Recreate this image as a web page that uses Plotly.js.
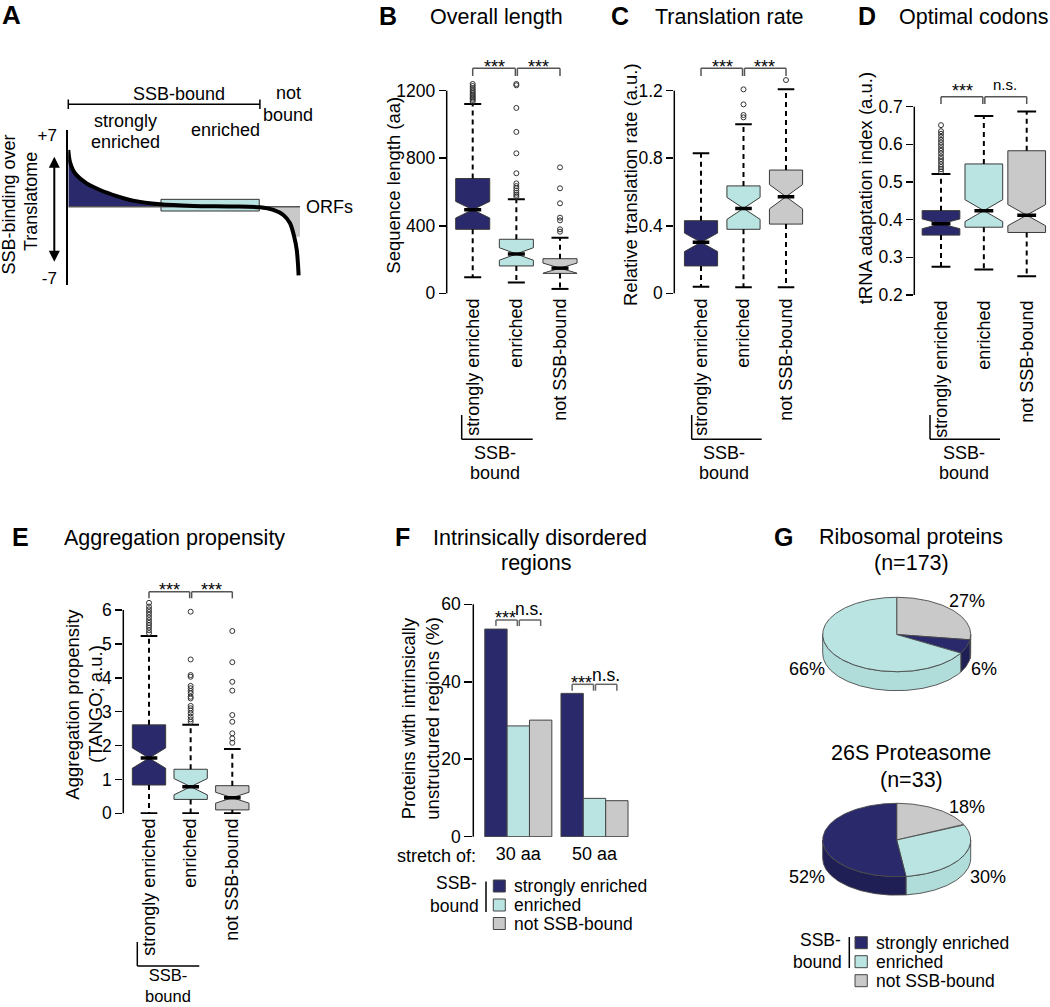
<!DOCTYPE html>
<html>
<head>
<meta charset="utf-8">
<script src="https://cdn.plot.ly/plotly-3.0.1.min.js"></script>
<style>html,body{margin:0;padding:0;background:#fff;}#fig{width:1050px;height:1007px;}</style>
</head>
<body>
<div id="fig"></div>
<script>
// ================= DATA =================
const groupLabels = ['strongly enriched', 'enriched', 'not SSB-bound'];

// A: schematic, SSB-binding over translatome for ranked ORFs (rank %, log2 ratio)
const curveRank  = [0, 0.7, 2.9, 7.9, 13.7, 20.9, 28, 39.6, 54, 70, 82.7, 88.5, 92.8, 95.7, 97.5, 98.6, 99.1, 99.4];
const curveValue = [5.54, 4.39, 3.26, 2.28, 1.63, 1.04, 0.59, 0.23, 0.07, 0.02, -0.06, -0.32, -0.81, -1.62, -2.93, -4.23, -5.5, -6.7];
const rankMax = 100;
const strongRankEnd = 54;
const boundRankEnd = 82.7;
const enrichedRankRange = [40, 82.4];
const enrichedBand = [-0.42, 0.72];
const notBoundShadeFloor = -2.93;
const axisATickVals = [7, -7];
const axisATickText = ['+7', '-7'];

// B: overall length (aa)
const lengthQ1 = [379, 162, 118];
const lengthMedian = [495, 233, 149];
const lengthQ3 = [680, 320, 205];
const lengthWhiskerLow = [95, 64, 26];
const lengthWhiskerHigh = [1121, 557, 329];
const lengthNotch = [49, 37, 30];
const lengthOutStrong = [1136, 1145, 1153, 1161, 1169, 1177, 1186, 1195, 1205, 1216, 1228, 1240];
const lengthOutEnriched = [572, 583, 595, 608, 622, 635, 651, 711, 829, 956, 1098, 1232, 1240];
const lengthOutNot = [365, 379, 432, 448, 533, 622, 746];
const lengthTicks = [0, 400, 800, 1200];

// C: relative translation rate (a.u.)
const rateQ1 = [0.162, 0.379, 0.410];
const rateMedian = [0.302, 0.503, 0.572];
const rateQ3 = [0.430, 0.636, 0.730];
const rateWhiskerLow = [0.039, 0.036, 0.036];
const rateWhiskerHigh = [0.829, 1.001, 1.208];
const rateNotch = [0.055, 0.065, 0.072];
const rateOutStrong = [];
const rateOutEnriched = [1.042, 1.056, 1.119, 1.208];
const rateOutNot = [1.263];
const rateTicks = [0, 0.4, 0.8, 1.2];

// D: tRNA adaptation index (a.u.)
const taiQ1 = [0.359, 0.380, 0.366];
const taiMedian = [0.389, 0.424, 0.412];
const taiQ3 = [0.424, 0.548, 0.583];
const taiWhiskerLow = [0.275, 0.268, 0.250];
const taiWhiskerHigh = [0.521, 0.675, 0.687];
const taiNotch = [0.013, 0.029, 0.028];
const taiOutStrong = [0.528, 0.534, 0.540, 0.547, 0.554, 0.561, 0.568, 0.576, 0.583, 0.590, 0.598, 0.605, 0.612, 0.620, 0.628, 0.635, 0.651];
const taiOutEnriched = [];
const taiOutNot = [];
const taiTicks = [0.2, 0.3, 0.4, 0.5, 0.6, 0.7];

// E: aggregation propensity (TANGO; a.u.)
const aggQ1 = [0.835, 0.41, 0.10];
const aggMedian = [1.63, 0.785, 0.46];
const aggQ3 = [2.61, 1.30, 0.815];
const aggWhiskerLow = [0, 0, 0];
const aggWhiskerHigh = [5.23, 2.61, 1.90];
const aggNotch = [0.30, 0.24, 0.16];
const aggOutStrong = [5.32, 5.40, 5.48, 5.55, 5.62, 5.70, 5.78, 5.86, 5.94, 6.02, 6.10, 6.21];
const aggOutEnriched = [2.70, 2.77, 2.85, 2.95, 3.03, 3.10, 3.17, 3.39, 3.44, 3.54, 3.61, 3.69, 3.76, 4.03, 4.08, 4.54, 5.95];
const aggOutNot = [2.08, 2.21, 2.36, 2.70, 2.90, 3.62, 3.88, 4.46, 5.38];
const aggTicks = [0, 1, 2, 3, 4, 5, 6];

// F: proteins with intrinsically unstructured regions (%)
const stretchLabels = ['30 aa', '50 aa'];
const idrStrong = [53.6, 37.0];
const idrEnriched = [28.6, 9.9];
const idrNotBound = [30.1, 9.3];
const idrTicks = [0, 20, 40, 60];

// G: complexes, share of subunits per class (%) [strongly enriched, enriched, not SSB-bound]
const riboPct = [6, 66, 27];
const proteasomePct = [52, 30, 18];
const riboOrder = [2, 0, 1];        // clockwise from 12 o'clock
const proteasomeOrder = [2, 1, 0];

// ================= STYLE / LAYOUT HELPERS =================
const W = 1050, H = 1007;
const FONT = 'Liberation Sans, Arial, Helvetica, sans-serif';
const NAVY = '#29296b', CYAN = '#bae4e2', GRAY = '#c9c9c9';
const fills = [NAVY, CYAN, GRAY];
const sideFills = ['#1f1f55', '#b0dcda', '#bdbdbd'];

function axisMap(v0, p0, v1, p1) {
  const k = (p1 - p0) / (v1 - v0);
  return { toPx: v => p0 + (v - v0) * k, toV: p => v0 + (p - p0) / k };
}
const P = {
  A: { x: axisMap(0, 68.3, 100, 300), xL: 68.3, xR: 310, y: axisMap(0, 206.7, 7, 135), yT: 130, yB: 285 },
  B: { x: axisMap(1, 472.7, 3, 560), xL: 446.7, xR: 592, y: axisMap(0, 293.3, 1200, 90.7), yT: 55, yB: 294 },
  C: { x: axisMap(1, 701, 3, 786), xL: 674.3, xR: 818, y: axisMap(0, 293.3, 1.2, 90.7), yT: 55, yB: 294 },
  D: { x: axisMap(1, 941, 3, 1026.7), xL: 914.3, xR: 1050, y: axisMap(0.2, 295, 0.7, 106.7), yT: 80, yB: 296 },
  E: { x: axisMap(1, 149, 3, 232.3), xL: 123.3, xR: 262, y: axisMap(0, 813.3, 6, 610), yT: 575, yB: 814 },
  F: { x: axisMap(0, 518.3, 1, 594.5), xL: 473.3, xR: 640, y: axisMap(0, 836.7, 60, 604.3), yT: 600, yB: 837 }
};

const traces = [], shapes = [], annotations = [];
const layout = {
  width: W, height: H, margin: { l: 0, r: 0, t: 0, b: 0 },
  paper_bgcolor: '#fff', plot_bgcolor: 'rgba(0,0,0,0)', showlegend: false,
  barmode: 'group', bargap: 0.12, bargroupgap: 0,
  font: { family: FONT, color: '#000' }
};

function seg(x0, y0, x1, y1, w, c) {
  shapes.push({ type: 'line', xref: 'paper', yref: 'paper', x0: x0 / W, y0: 1 - y0 / H, x1: x1 / W, y1: 1 - y1 / H,
    line: { color: c || '#000', width: w || 1.5 } });
}
function rect(x0, y0, x1, y1, fill) {
  shapes.push({ type: 'rect', xref: 'paper', yref: 'paper', x0: x0 / W, y0: 1 - y1 / H, x1: x1 / W, y1: 1 - y0 / H,
    fillcolor: fill, line: { color: '#444', width: 1 } });
}
function txt(text, x, y, o) {
  o = o || {};
  annotations.push({ xref: 'paper', yref: 'paper', x: x / W, y: 1 - y / H, text: text, showarrow: false,
    xanchor: o.xa || 'center', yanchor: o.ya || 'middle', textangle: o.angle || 0,
    font: { family: FONT, size: o.size || 18, color: '#000' } });
}
function bracketPair(xa, xb, yTop, yEnd, c) {
  seg(xa, yEnd, xa, yTop, 1.5, c || '#555');
  seg(xa, yTop, xb, yTop, 1.5, c || '#555');
  seg(xb, yTop, xb, yEnd, 1.5, c || '#555');
}

// ================= A =================
(function () {
  const p = P.A;
  layout.xaxis = { domain: [p.xL / W, p.xR / W], range: [p.x.toV(p.xL), p.x.toV(p.xR)], anchor: 'y', visible: false, fixedrange: true };
  layout.yaxis = { domain: [1 - p.yB / H, 1 - p.yT / H], range: [p.y.toV(p.yB), p.y.toV(p.yT)], anchor: 'x',
    showline: true, linewidth: 2, linecolor: '#000', ticks: '', tickvals: axisATickVals, ticktext: axisATickText,
    showgrid: false, zeroline: false, tickfont: { family: FONT, size: 17, color: '#000' }, ticklabelstandoff: 6, automargin: false };
  const idxStrong = curveRank.map((r, i) => i).filter(i => curveRank[i] <= strongRankEnd);
  traces.push({ type: 'scatter', mode: 'lines', x: idxStrong.map(i => curveRank[i]), y: idxStrong.map(i => curveValue[i]),
    fill: 'tozeroy', fillcolor: NAVY, line: { width: 0, shape: 'spline', smoothing: 0.8 }, hoverinfo: 'skip' });
  const idxNot = curveRank.map((r, i) => i).filter(i => curveRank[i] >= boundRankEnd && curveValue[i] >= notBoundShadeFloor);
  traces.push({ type: 'scatter', mode: 'lines', x: idxNot.map(i => curveRank[i]).concat([rankMax]),
    y: idxNot.map(i => curveValue[i]).concat([notBoundShadeFloor]),
    fill: 'tozeroy', fillcolor: GRAY, line: { width: 0 }, hoverinfo: 'skip' });
  traces.push({ type: 'scatter', mode: 'lines',
    x: [enrichedRankRange[0], enrichedRankRange[1], enrichedRankRange[1], enrichedRankRange[0], enrichedRankRange[0]],
    y: [enrichedBand[0], enrichedBand[0], enrichedBand[1], enrichedBand[1], enrichedBand[0]],
    fill: 'toself', fillcolor: CYAN, line: { color: '#333', width: 1 }, hoverinfo: 'skip' });
  traces.push({ type: 'scatter', mode: 'lines', x: [0, rankMax], y: [0, 0], line: { color: '#555', width: 1.5 }, hoverinfo: 'skip' });
  traces.push({ type: 'scatter', mode: 'lines', x: curveRank, y: curveValue,
    line: { color: '#000', width: 4, shape: 'spline', smoothing: 0.8 }, hoverinfo: 'skip' });

  const x0 = p.x.toPx(0), x1 = p.x.toPx(boundRankEnd);
  seg(x0, 104.3, x1, 104.3, 1.5); seg(x0, 99.5, x0, 109, 1.5); seg(x1, 99.5, x1, 109, 1.5);
  txt('<b>A</b>', 11, 15, { size: 26 });
  txt('SSB-bound', 179, 94, {});
  txt('not', 288, 93.3, {}); txt('bound', 288, 115, {});
  txt('strongly', 125, 120.7, {}); txt('enriched', 125, 141.7, {});
  txt('enriched', 225.7, 130, {});
  txt('ORFs', 303.5, 206.7, { xa: 'left' });
  txt('SSB-binding over', 8.5, 205, { angle: -90 });
  txt('Translatome', 31, 202, { angle: -90 });
  annotations.push({ xref: 'paper', yref: 'paper', x: 54.3 / W, y: 1 - 156.7 / H, ax: 0, ay: 106.6, axref: 'pixel', ayref: 'pixel',
    text: '', showarrow: true, arrowhead: 2, startarrowhead: 2, arrowside: 'end+start', arrowsize: 1.1, arrowwidth: 2,
    arrowcolor: '#000', standoff: 0, startstandoff: 0 });
})();

// ================= BOX PANELS =================
function boxPanel(key, n, s, outliers, width, ticks, tickText) {
  const p = P[key], xa = 'x' + n, ya = 'y' + n;
  layout['xaxis' + n] = { domain: [p.xL / W, p.xR / W], range: [p.x.toV(p.xL), p.x.toV(p.xR)], anchor: ya,
    tickvals: [1, 2, 3], ticktext: groupLabels, tickangle: -90, ticks: '', showline: false, zeroline: false, showgrid: false,
    tickfont: { family: FONT, size: 18, color: '#000' }, automargin: false, fixedrange: true };
  layout['yaxis' + n] = { domain: [1 - p.yB / H, 1 - p.yT / H], range: [p.y.toV(p.yB), p.y.toV(p.yT)], anchor: xa,
    tickvals: ticks, ticktext: tickText, ticks: 'outside', ticklen: 7, tickwidth: 1.5, tickcolor: '#000',
    showline: false, zeroline: false, showgrid: false, tickfont: { family: FONT, size: 17.5, color: '#000' }, automargin: false };
  seg(p.xL, p.y.toPx(ticks[0]), p.xL, p.y.toPx(ticks[ticks.length - 1]), 1.5);
  [0, 1, 2].forEach(i => traces.push({ type: 'box', xaxis: xa, yaxis: ya, x: [i + 1],
    q1: [s.q1[i]], median: [s.med[i]], q3: [s.q3[i]], lowerfence: [s.q1[i]], upperfence: [s.q3[i]],
    notched: true, notchspan: [s.notch[i]], notchwidth: 0.5, width: width, whiskerwidth: 0, boxpoints: false,
    fillcolor: fills[i], line: { color: '#3a3a3a', width: 1 }, hoverinfo: 'skip' }));
  const wx = [], wy = [], cx = [], cy = [], mx = [], my = [], ox = [], oy = [];
  [0, 1, 2].forEach(i => {
    const x = i + 1, c = width * 0.25;
    wx.push(x, x, null, x, x, null); wy.push(s.q3[i], s.hi[i], null, s.q1[i], s.lo[i], null);
    cx.push(x - c, x + c, null, x - c, x + c, null); cy.push(s.hi[i], s.hi[i], null, s.lo[i], s.lo[i], null);
    mx.push(x - c, x + c, null); my.push(s.med[i], s.med[i], null);
    outliers[i].forEach(v => { ox.push(x); oy.push(v); });
  });
  traces.push({ type: 'scatter', mode: 'lines', xaxis: xa, yaxis: ya, x: wx, y: wy, line: { color: '#000', width: 2, dash: '5px,4px' }, hoverinfo: 'skip' });
  traces.push({ type: 'scatter', mode: 'lines', xaxis: xa, yaxis: ya, x: cx, y: cy, line: { color: '#000', width: 2 }, hoverinfo: 'skip' });
  traces.push({ type: 'scatter', mode: 'lines', xaxis: xa, yaxis: ya, x: mx, y: my, line: { color: '#000', width: 3.5 }, hoverinfo: 'skip' });
  traces.push({ type: 'scatter', mode: 'markers', xaxis: xa, yaxis: ya, x: ox, y: oy, cliponaxis: false,
    marker: { symbol: 'circle-open', size: 5, color: '#333', line: { width: 1, color: '#333' } }, hoverinfo: 'skip' });
}
function sigBrackets(key, yTop, yEnd, labels, ys, sizes) {
  const p = P[key];
  const xs = [1, 2, 3].map(v => p.x.toPx(v));
  bracketPair(xs[0], xs[1] - 1, yTop, yEnd);
  bracketPair(xs[1] + 1, xs[2], yTop, yEnd);
  txt(labels[0], (xs[0] + xs[1]) / 2, ys[0], { size: sizes[0] });
  txt(labels[1], (xs[1] + xs[2]) / 2, ys[1], { size: sizes[1] });
}
function ssbBracket(xv, x1, yTop, yLine, xc, y1, y2) {
  seg(xv, yTop, xv, yLine, 1.5); seg(xv, yLine, x1, yLine, 1.5);
  txt('SSB-', xc, y1, {}); txt('bound', xc, y2, {});
}

boxPanel('B', 2, { q1: lengthQ1, med: lengthMedian, q3: lengthQ3, lo: lengthWhiskerLow, hi: lengthWhiskerHigh, notch: lengthNotch },
  [lengthOutStrong, lengthOutEnriched, lengthOutNot], 0.78, lengthTicks, lengthTicks.map(String));
sigBrackets('B', 68.3, 76, ['***', '***'], [67, 67], [18, 18]);
txt('<b>B</b>', 388, 16, { size: 25 });
txt('Overall length', 428.3, 17, { xa: 'left', size: 21.5 });
txt('Sequence length (aa)', 392.7, 185, { angle: -90, size: 18.5 });
ssbBracket(461.7, 532.7, 415, 439.3, 495, 453, 473);

boxPanel('C', 3, { q1: rateQ1, med: rateMedian, q3: rateQ3, lo: rateWhiskerLow, hi: rateWhiskerHigh, notch: rateNotch },
  [rateOutStrong, rateOutEnriched, rateOutNot], 0.78, rateTicks, rateTicks.map(String));
sigBrackets('C', 68.3, 76, ['***', '***'], [67, 67], [18, 18]);
txt('<b>C</b>', 620, 16, { size: 25 });
txt('Translation rate', 653.3, 17, { xa: 'left', size: 21.5 });
txt('Relative translation rate (a.u.)', 630, 185, { angle: -90, size: 18.5 });
ssbBracket(691.7, 761.7, 415, 439.3, 724, 453, 473);

boxPanel('D', 4, { q1: taiQ1, med: taiMedian, q3: taiQ3, lo: taiWhiskerLow, hi: taiWhiskerHigh, notch: taiNotch },
  [taiOutStrong, taiOutEnriched, taiOutNot], 0.88, taiTicks, taiTicks.map(v => v.toFixed(1)));
sigBrackets('D', 96.7, 104, ['***', 'n.s.'], [90.5, 84.5], [18, 15]);
txt('<b>D</b>', 866.5, 16, { size: 25 });
txt('Optimal codons', 896.7, 17, { xa: 'left', size: 21.5 });
txt('tRNA adaptation index (a.u.)', 865, 188.3, { angle: -90, size: 18.5 });
ssbBracket(930, 1000, 415, 439.3, 964, 453, 473);

boxPanel('E', 5, { q1: aggQ1, med: aggMedian, q3: aggQ3, lo: aggWhiskerLow, hi: aggWhiskerHigh, notch: aggNotch },
  [aggOutStrong, aggOutEnriched, aggOutNot], 0.8, aggTicks, aggTicks.map(String));
sigBrackets('E', 591.7, 598.3, ['***', '***'], [589.5, 589.5], [18, 18]);
txt('<b>E</b>', 20, 537, { size: 25 });
txt('Aggregation propensity', 62, 538, { xa: 'left', size: 21.5 });
txt('Aggregation propensity', 71.7, 704, { angle: -90, size: 18.5 });
txt('(TANGO; a.u.)', 95, 704, { angle: -90, size: 18.5 });
seg(137.3, 942, 137.3, 966, 1.5); seg(137.3, 966, 199.3, 966, 1.5);
annotations.push({ xref: 'paper', yref: 'paper', x: 168.3 / W, y: 1 - 1006 / H, text: 'SSB-<br>bound', showarrow: false,
  xanchor: 'center', yanchor: 'bottom', align: 'center', borderpad: 0,
  font: { family: FONT, size: 16.5, color: '#000' } });

// ================= F =================
(function () {
  const p = P.F;
  layout.xaxis6 = { domain: [p.xL / W, p.xR / W], range: [p.x.toV(p.xL), p.x.toV(p.xR)], anchor: 'y6', type: 'category',
    ticks: '', showline: false, zeroline: false, showgrid: false, tickfont: { family: FONT, size: 18, color: '#000' },
    ticklabelstandoff: 4, automargin: false };
  layout.yaxis6 = { domain: [1 - p.yB / H, 1 - p.yT / H], range: [p.y.toV(p.yB), p.y.toV(p.yT)], anchor: 'x6',
    tickvals: idrTicks, ticktext: idrTicks.map(String), ticks: 'outside', ticklen: 8, tickwidth: 1.5, tickcolor: '#000',
    showline: false, zeroline: false, showgrid: false, tickfont: { family: FONT, size: 17.5, color: '#000' }, automargin: false };
  seg(p.xL, p.y.toPx(idrTicks[0]), p.xL, p.y.toPx(idrTicks[idrTicks.length - 1]), 1.5);
  [idrStrong, idrEnriched, idrNotBound].forEach((vals, i) => traces.push({ type: 'bar', xaxis: 'x6', yaxis: 'y6',
    x: stretchLabels, y: vals, marker: { color: fills[i], line: { color: '#444', width: 1 } }, hoverinfo: 'skip' }));
  const bw = (1 - 0.12) / 3;
  const tops = [[620, 626], [684.3, 690.7]];
  const sy = [[617.5, 609], [682.5, 674.6]];
  [0, 1].forEach(g => {
    const b = [-bw, 0, bw].map(o => p.x.toPx(g + o));
    bracketPair(b[0], b[1] - 1, tops[g][0], tops[g][1], '#666');
    bracketPair(b[1] + 1, b[2], tops[g][0], tops[g][1], '#666');
    txt('***', (b[0] + b[1]) / 2 - 2, sy[g][0], { size: 18 });
    txt('n.s.', (b[1] + b[2]) / 2, sy[g][1], { size: 17.5 });
  });
  txt('stretch of:', 477.5, 856, { xa: 'right', size: 18 });
  txt('<b>F</b>', 402, 537, { size: 25 });
  txt('Intrinsically disordered', 540, 538, { size: 21.5 });
  txt('regions', 536, 563, { size: 21.5 });
  txt('Proteins with intrinsically', 408.3, 718, { angle: -90, size: 18.5 });
  txt('unstructured regions (%)', 431.7, 718, { angle: -90, size: 18.5 });
  // legend
  const rows = [886, 905, 923.5];
  rows.forEach((y, i) => { rect(493.3, y - 6, 505.3, y + 6, fills[i]); txt(groupLabels[i], 511.5, y, { xa: 'left', size: 17.5 }); });
  txt('SSB-', 478.5, 882.5, { xa: 'right', size: 17.5 });
  txt('bound', 480.5, 906, { xa: 'right', size: 17.5 });
  seg(486, 881.5, 486, 912, 1.5);
})();

// ================= G =================
(function () {
  layout.xaxis7 = { domain: [760 / W, 1], range: [760, 1050], anchor: 'y7', visible: false, fixedrange: true };
  layout.yaxis7 = { domain: [0, 1 - 575 / H], range: [1007, 575], anchor: 'x7', visible: false, fixedrange: true };
  function pie3d(pct, order, cx, cy, rx, ry, depth) {
    const total = pct.reduce((a, b) => a + b, 0);
    const sl = []; let acc = 0;
    order.forEach(k => { const span = pct[k] / total * 360; sl.push({ k: k, a0: acc, a1: acc + span }); acc += span; });
    const pt = (t, dy) => [cx + rx * Math.sin(t * Math.PI / 180), cy - ry * Math.cos(t * Math.PI / 180) + dy];
    const arc = (t0, t1, dy) => { const n = Math.max(2, Math.ceil(Math.abs(t1 - t0))); const out = [];
      for (let j = 0; j <= n; j++) out.push(pt(t0 + (t1 - t0) * j / n, dy)); return out; };
    sl.forEach(s => {
      const b0 = Math.max(s.a0, 90), b1 = Math.min(s.a1, 270);
      if (b1 > b0) {
        const pts = arc(b0, b1, 0).concat(arc(b1, b0, depth)); pts.push(pts[0]);
        traces.push({ type: 'scatter', mode: 'lines', xaxis: 'x7', yaxis: 'y7', x: pts.map(q => q[0]), y: pts.map(q => q[1]),
          fill: 'toself', fillcolor: sideFills[s.k], line: { color: '#4a4a4a', width: 0.9 }, hoverinfo: 'skip' });
      }
    });
    sl.forEach(s => {
      const pts = [[cx, cy]].concat(arc(s.a0, s.a1, 0)); pts.push([cx, cy]);
      traces.push({ type: 'scatter', mode: 'lines', xaxis: 'x7', yaxis: 'y7', x: pts.map(q => q[0]), y: pts.map(q => q[1]),
        fill: 'toself', fillcolor: fills[s.k], line: { color: '#4a4a4a', width: 0.9 }, hoverinfo: 'skip' });
    });
  }
  pie3d(riboPct, riboOrder, 896.7, 634.5, 74, 37.2, 19);
  pie3d(proteasomePct, proteasomeOrder, 896.7, 840, 74, 36.7, 18.5);
  txt(riboPct[2] + '%', 967.3, 600.7, {}); txt(riboPct[1] + '%', 806.7, 669.3, {}); txt(riboPct[0] + '%', 983.7, 669.3, {});
  txt(proteasomePct[2] + '%', 967.3, 806.7, {}); txt(proteasomePct[0] + '%', 806.7, 877.3, {}); txt(proteasomePct[1] + '%', 988.3, 877.3, {});
  txt('<b>G</b>', 783, 537, { size: 25 });
  txt('Ribosomal proteins', 911, 537, { size: 21.5 });
  txt('(n=173)', 911, 563, { size: 21.5 });
  txt('26S Proteasome', 911, 752.7, { size: 21.5 });
  txt('(n=33)', 911, 780, { size: 21.5 });
  const rows = [942.7, 961.7, 980.7];
  rows.forEach((y, i) => { rect(855, y - 6, 867.3, y + 6, fills[i]); txt(groupLabels[i], 873.5, y, { xa: 'left', size: 17.5 }); });
  txt('SSB-', 843, 940, { xa: 'right', size: 17.5 });
  txt('bound', 844, 961.7, { xa: 'right', size: 17.5 });
  seg(849.3, 937, 849.3, 968, 1.5);
})();

layout.shapes = shapes;
layout.annotations = annotations;
Plotly.newPlot('fig', traces, layout, { staticPlot: true, displayModeBar: false });
</script>
</body>
</html>
